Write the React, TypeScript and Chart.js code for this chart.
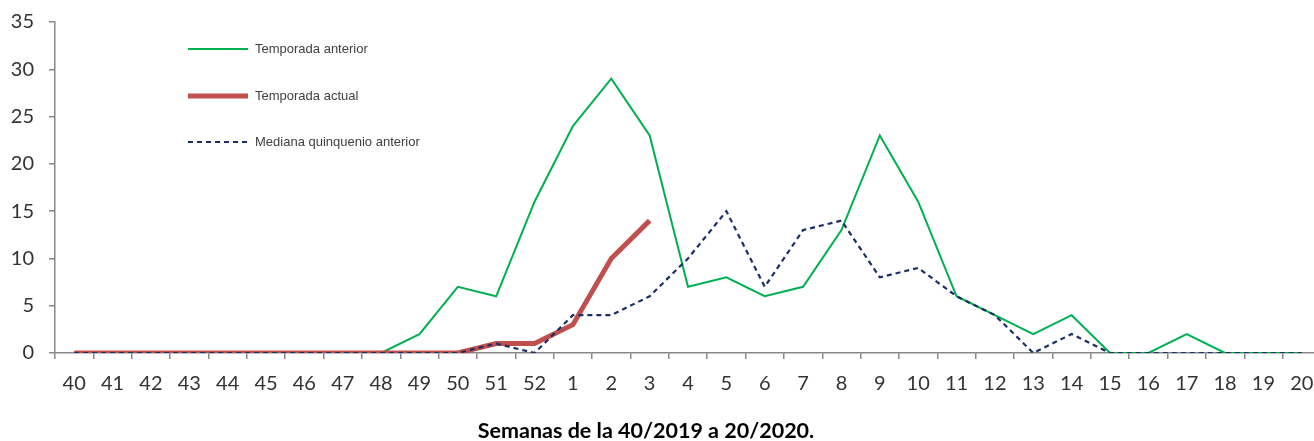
import React, { useEffect, useRef } from "react";
import { Chart, registerables } from "chart.js";

Chart.register(...registerables);

const weeks = [
  "40", "41", "42", "43", "44", "45", "46", "47", "48", "49", "50", "51", "52",
  "1", "2", "3", "4", "5", "6", "7", "8", "9", "10", "11", "12", "13", "14", "15", "16", "17", "18", "19", "20",
];

const temporadaAnterior = [
  0, 0, 0, 0, 0, 0, 0, 0, 0, 2, 7, 6, 16,
  24, 29, 23, 7, 8, 6, 7, 13, 23, 16, 6, 4, 2, 4, 0, 0, 2, 0, 0, 0,
];

const temporadaActual = [
  0, 0, 0, 0, 0, 0, 0, 0, 0, 0, 0, 1, 1,
  3, 10, 14,
];

const medianaQuinquenio = [
  0, 0, 0, 0, 0, 0, 0, 0, 0, 0, 0, 1, 0,
  4, 4, 6, 10, 15, 7, 13, 14, 8, 9, 6, 4, 0, 2, 0, 0, 0, 0, 0, 0,
];

const seriesLabels = ["Temporada anterior", "Temporada actual", "Mediana quinquenio anterior"];
const xAxisTitle = "Semanas de la 40/2019 a 20/2020.";
const yMin = 0;
const yMax = 35;
const yStep = 5;

const legendPlugin = {
  id: "insideLegend",
  afterDraw(chart: any) {
    const ctx = chart.ctx;
    const ys = [49, 96, 142];
    chart.data.datasets.forEach((ds: any, i: number) => {
      ctx.save();
      ctx.strokeStyle = ds.borderColor;
      ctx.lineWidth = ds.borderWidth;
      ctx.setLineDash(ds.borderDash || []);
      ctx.beginPath();
      ctx.moveTo(188, ys[i]);
      ctx.lineTo(248, ys[i]);
      ctx.stroke();
      ctx.setLineDash([]);
      ctx.fillStyle = "#404040";
      ctx.font = '13px "Liberation Sans"';
      ctx.textBaseline = "middle";
      ctx.textAlign = "left";
      ctx.fillText(ds.label, 255, ys[i]);
      ctx.restore();
    });
    ctx.save();
    ctx.fillStyle = "#000";
    ctx.font = "bold 21.5px Lato";
    ctx.textAlign = "center";
    ctx.textBaseline = "middle";
    ctx.fillText(xAxisTitle, 646, 431);
    ctx.restore();
  },
};

export default function App() {
  const ref = useRef<HTMLCanvasElement | null>(null);

  useEffect(() => {
    if (!ref.current) return;
    const chart = new Chart(ref.current, {
      type: "line",
      data: {
        labels: weeks,
        datasets: [
          {
            label: seriesLabels[0],
            data: temporadaAnterior,
            borderColor: "#00B050",
            borderWidth: 2,
            pointRadius: 0,
            tension: 0,
            order: 2,
          },
          {
            label: seriesLabels[1],
            data: temporadaActual,
            borderColor: "#C0504D",
            borderWidth: 5,
            pointRadius: 0,
            tension: 0,
            order: 1,
          },
          {
            label: seriesLabels[2],
            data: medianaQuinquenio,
            borderColor: "#1A2F66",
            borderWidth: 2.2,
            borderDash: [5, 4],
            pointRadius: 0,
            tension: 0,
            order: 0,
          },
        ],
      },
      options: {
        responsive: false,
        animation: false,
        layout: { padding: { top: 22, right: 2, left: 0, bottom: 0 } },
        plugins: {
          legend: { display: false },
          tooltip: { enabled: false },
          title: { display: false },
        },
        scales: {
          x: {
            offset: true,
            grid: {
              offset: true,
              drawOnChartArea: false,
              drawTicks: true,
              tickLength: 6,
              color: "#888888",
              lineWidth: 1.5,
            },
            border: { display: true, color: "#888888", width: 1.5 },
            ticks: {
              color: "#333333",
              font: { family: "Lato", size: 20 },
              padding: 13,
              maxRotation: 0,
              autoSkip: false,
            },
            afterFit(scale: any) {
              scale.height = 88;
              scale.paddingLeft = 0;
              scale.paddingRight = 0;
            },
          },
          y: {
            min: yMin,
            max: yMax,
            grid: {
              drawOnChartArea: false,
              drawTicks: true,
              tickLength: 6,
              color: "#888888",
              lineWidth: 1.5,
            },
            border: { display: true, color: "#888888", width: 1.5 },
            ticks: {
              stepSize: yStep,
              color: "#333333",
              font: { family: "Lato", size: 20 },
              padding: 15,
            },
            afterFit(scale: any) {
              scale.width = 55;
              scale.paddingTop = 0;
              scale.paddingBottom = 0;
            },
          },
        },
      },
      plugins: [legendPlugin],
    });
    return () => chart.destroy();
  }, []);

  return (
    <div
      style={{
        position: "fixed",
        left: 0,
        top: 0,
        width: 1314,
        height: 441,
        overflow: "hidden",
        background: "#ffffff",
      }}
    >
      <canvas ref={ref} width={1323} height={441} style={{ width: 1323, height: 441, display: "block" }} />
    </div>
  );
}
